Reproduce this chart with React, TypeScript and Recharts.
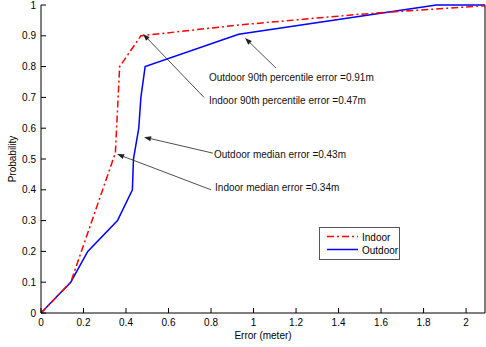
import React from 'react';
import { LineChart, Line, XAxis, YAxis, ReferenceLine, ReferenceDot, Legend } from 'recharts';

const indoorX = [0, 0.14, 0.35, 0.37, 0.47, 0.93, 1.5, 2.09];
const indoorY = [0, 0.1, 0.52, 0.8, 0.9, 0.935, 0.97, 0.998];
const outdoorX = [0, 0.07, 0.14, 0.22, 0.36, 0.43, 0.435, 0.46, 0.47, 0.49, 0.93, 1.86, 2.09];
const outdoorY = [0, 0.05, 0.1, 0.2, 0.3, 0.4, 0.5, 0.6, 0.7, 0.8, 0.905, 1.0, 1.0];

const xTicks = [0, 0.2, 0.4, 0.6, 0.8, 1, 1.2, 1.4, 1.6, 1.8, 2];
const yTicks = [0, 0.1, 0.2, 0.3, 0.4, 0.5, 0.6, 0.7, 0.8, 0.9, 1];

const annotationTexts = [
  'Outdoor 90th percentile error =0.91m',
  'Indoor 90th percentile error =0.47m',
  'Outdoor median error =0.43m',
  'Indoor median error =0.34m',
];
const annotationTextX = [0.79, 0.79, 0.814, 0.819];
const annotationTextY = [0.766, 0.69, 0.513, 0.409];
const arrowFromX = [1.106, 0.767, 0.809, 0.80];
const arrowFromY = [0.795, 0.70, 0.519, 0.40];
const arrowToX = [0.96, 0.48, 0.485, 0.358];
const arrowToY = [0.893, 0.906, 0.571, 0.516];

const indoorData = indoorX.map((x, i) => ({ x, y: indoorY[i] }));
const outdoorData = outdoorX.map((x, i) => ({ x, y: outdoorY[i] }));

const FONT = '"Liberation Sans", Arial, sans-serif';

const BottomTick = (props: any) => {
  const { x, y, payload } = props;
  return (
    <g>
      <line x1={x} x2={x} y1={y} y2={y - 5} stroke="#000" strokeWidth={1} />
      <text x={x} y={y + 9} textAnchor="middle" dominantBaseline="central" fontSize={10} fontFamily={FONT} fill="#000">
        {String(payload.value)}
      </text>
    </g>
  );
};
const TopTick = (props: any) => {
  const { x, y } = props;
  return <line x1={x} x2={x} y1={y} y2={y + 5} stroke="#000" strokeWidth={1} />;
};
const LeftTick = (props: any) => {
  const { x, y, payload } = props;
  return (
    <g>
      <line x1={x} x2={x + 5} y1={y} y2={y} stroke="#000" strokeWidth={1} />
      <text x={x - 5} y={y} textAnchor="end" dominantBaseline="central" fontSize={10} fontFamily={FONT} fill="#000">
        {String(payload.value)}
      </text>
    </g>
  );
};
const RightTick = (props: any) => {
  const { x, y } = props;
  return <line x1={x} x2={x - 5} y1={y} y2={y} stroke="#000" strokeWidth={1} />;
};

const Arrow = (props: any) => {
  const { x1, y1, x2, y2 } = props;
  const ang = Math.atan2(y2 - y1, x2 - x1);
  const len = 7;
  const w = 2.5;
  const bx = x2 - len * Math.cos(ang);
  const by = y2 - len * Math.sin(ang);
  const px = -Math.sin(ang) * w;
  const py = Math.cos(ang) * w;
  return (
    <g>
      <line x1={x1} y1={y1} x2={bx} y2={by} stroke="#222" strokeWidth={0.8} />
      <polygon points={`${x2},${y2} ${bx + px},${by + py} ${bx - px},${by - py}`} fill="#222" />
    </g>
  );
};

const LegendBox = () => (
  <div style={{ width: 79, height: 31, border: '1px solid #555', background: '#fff', fontFamily: FONT, fontSize: 10 }}>
    <svg width={79} height={31}>
      <line x1={7} x2={38} y1={8.5} y2={8.5} stroke="#ff0000" strokeWidth={1.5} strokeDasharray="7 3 2 3" />
      <text x={42} y={9} dominantBaseline="central" fontSize={10} fontFamily={FONT} fill="#000">Indoor</text>
      <line x1={7} x2={38} y1={21.5} y2={21.5} stroke="#0000ff" strokeWidth={1.5} />
      <text x={42} y={22} dominantBaseline="central" fontSize={10} fontFamily={FONT} fill="#000">Outdoor</text>
    </svg>
  </div>
);

export default function App() {
  return (
    <div style={{ position: 'absolute', left: 0, top: 0, width: 486, height: 347, background: '#fff' }}>
      <LineChart width={486} height={347} margin={{ top: 5, right: 0, left: 0, bottom: 0 }}>
        <XAxis
          xAxisId={0}
          type="number"
          dataKey="x"
          domain={[0, 2.089]}
          ticks={xTicks}
          allowDataOverflow
          height={34}
          tickSize={0}
          tickMargin={0}
          tickLine={false}
          tick={<BottomTick />}
          axisLine={{ stroke: '#000' }}
          interval={0}
        />
        <XAxis
          xAxisId="top"
          orientation="top"
          type="number"
          dataKey="x"
          domain={[0, 2.089]}
          ticks={xTicks}
          allowDataOverflow
          height={0}
          tickSize={0}
          tickMargin={0}
          tickLine={false}
          tick={<TopTick />}
          axisLine={{ stroke: '#000' }}
          interval={0}
        />
        <YAxis
          yAxisId={0}
          type="number"
          domain={[0, 1]}
          ticks={yTicks}
          width={41}
          tickSize={0}
          tickMargin={0}
          tickLine={false}
          tick={<LeftTick />}
          axisLine={{ stroke: '#000' }}
          interval={0}
        />
        <YAxis
          yAxisId="right"
          orientation="right"
          type="number"
          domain={[0, 1]}
          ticks={yTicks}
          width={1}
          tickSize={0}
          tickMargin={0}
          tickLine={false}
          tick={<RightTick />}
          axisLine={{ stroke: '#000' }}
          interval={0}
        />
        <Line
          data={outdoorData}
          dataKey="y"
          type="linear"
          stroke="#0000ff"
          strokeWidth={1.5}
          dot={false}
          activeDot={false}
          isAnimationActive={false}
          name="Outdoor"
        />
        <Line
          data={indoorData}
          dataKey="y"
          type="linear"
          stroke="#ff0000"
          strokeWidth={1.5}
          strokeDasharray="7 3 2 3"
          dot={false}
          activeDot={false}
          isAnimationActive={false}
          name="Indoor"
        />
        {annotationTexts.map((t, i) => (
          <ReferenceLine
            key={'a' + i}
            segment={[
              { x: arrowFromX[i], y: arrowFromY[i] },
              { x: arrowToX[i], y: arrowToY[i] },
            ]}
            shape={<Arrow />}
            ifOverflow="visible"
          />
        ))}
        {annotationTexts.map((t, i) => (
          <ReferenceDot
            key={'t' + i}
            x={annotationTextX[i]}
            y={annotationTextY[i]}
            r={0}
            fill="none"
            stroke="none"
            ifOverflow="visible"
            label={(p: any) => (
              <text
                x={p.viewBox.x}
                y={p.viewBox.y}
                dominantBaseline="central"
                fontSize={10}
                fontFamily={FONT}
                fill="#111"
              >
                {t}
              </text>
            )}
          />
        ))}
        <Legend
          layout="vertical"
          align="center"
          verticalAlign="middle"
          content={() => <LegendBox />}
          wrapperStyle={{ position: 'absolute', left: 319, top: 227, width: 81, height: 33 }}
        />
        <text x={263} y={335} textAnchor="middle" dominantBaseline="central" fontSize={10} fontFamily={FONT} fill="#000">
          Error (meter)
        </text>
        <text
          x={12}
          y={159}
          textAnchor="middle"
          dominantBaseline="central"
          fontSize={10}
          fontFamily={FONT}
          fill="#000"
          transform="rotate(-90 12 159)"
        >
          Probability
        </text>
      </LineChart>
    </div>
  );
}
